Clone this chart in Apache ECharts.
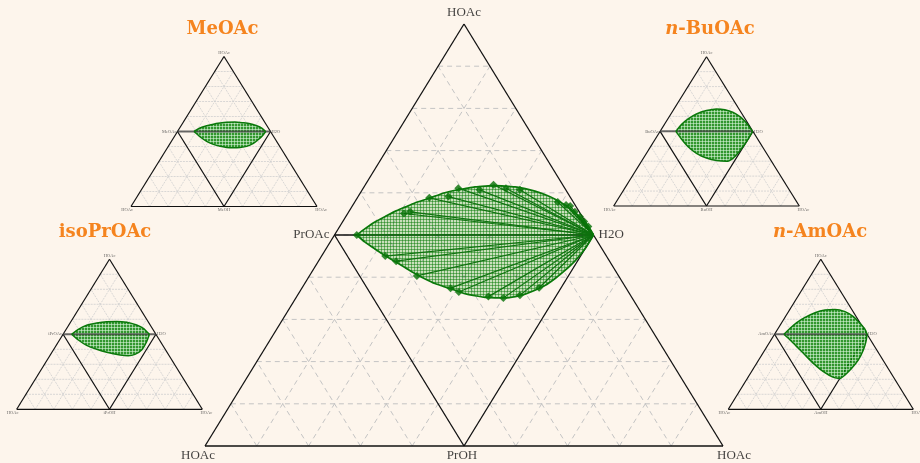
<!DOCTYPE html>
<html><head><meta charset="utf-8">
<script src="https://cdn.jsdelivr.net/npm/echarts@6/dist/echarts.min.js"></script>
<style>html,body{margin:0;padding:0;background:#fdf5ec;}#c{width:920px;height:463px;}</style>
</head><body><div id="c"></div>
<script>
// ================= DATA (triangle units: x 0..100 along base, y 0..100 of height) =================
const DIVISIONS = 10;
const outerTriangle = [[0,0],[50,100],[100,0]];
const apexVertex = [50,100], esterVertex = [25,50], waterVertex = [75,50];
const leftVertex = [0,0], alcoholVertex = [50,0], rightVertex = [100,0];

// main chart: n-propyl acetate system
const bigLabels = ['HOAc','PrOAc','H2O','HOAc','PrOH','HOAc'];
const bigUpper = [[29.3,50],[30.9,51.5],[32.8,53.1],[34.8,54.4],[36.7,55.6],[38.6,56.6],[40.5,57.6],[42.5,58.4],[44.4,59.2],[46.3,60.0],[48.3,60.6],[50.2,61.0],[52.1,61.4],[54.1,61.6],[56.0,61.7],[57.9,61.6],[59.9,61.4],[61.8,61.0],[63.7,60.4],[65.6,59.6],[67.6,58.5],[69.5,57.1],[71.4,55.3],[73.0,53.6],[74.1,51.9],[75,50]];
const bigLower = [[29.3,50],[30.9,48.3],[32.8,46.7],[34.8,45.1],[36.7,43.7],[38.6,42.3],[40.5,40.9],[42.5,39.6],[44.4,38.5],[46.3,37.7],[48.3,36.9],[50.2,36.1],[52.1,35.6],[54.1,35.2],[56.0,35.1],[57.9,35.1],[59.9,35.4],[61.8,36.0],[63.7,36.9],[65.6,38.0],[67.6,39.7],[69.5,41.6],[71.4,43.8],[73.4,46.8],[75,50]];
const bigUpperPoints = [[29.3,50],[38.4,55.1],[39.6,55.5],[43.3,58.8],[47.0,59.1],[48.9,61.1],[53.0,60.7],[55.7,61.9],[58.1,61.1],[60.8,60.7],[68.1,57.8],[69.7,57.1],[70.5,56.9],[71.4,55.5],[72.4,54.3],[73.2,53.2],[74.0,52.0]];
const bigLowerPoints = [[34.8,45.0],[36.9,43.8],[40.9,40.3],[47.4,37.4],[49.0,36.5],[54.7,35.4],[57.6,35.1],[60.8,35.7],[64.5,37.5]];

// inset systems
const meoacLabels = ['HOAc','MeOAc','H2O','HOAc','MeOH','HOAc'];
const meoacUpper = [[33.9,50],[37.1,52.3],[40.7,53.8],[44.3,54.9],[47.9,55.6],[51.4,56.1],[55.9,56.3],[60.4,55.8],[64.0,55.2],[67.6,53.8],[70.3,52.3],[72.4,50]];
const meoacLower = [[37.1,46.5],[40.7,43.4],[44.3,41.4],[47.9,40.1],[51.4,39.4],[55.0,39.2],[58.6,39.4],[62.2,40.1],[65.8,42.1],[68.5,44.7],[70.8,47.4]];

const buoacLabels = ['HOAc','BuOAc','H2O','HOAc','BuOH','HOAc'];
const buoacUpper = [[33.5,50],[36.5,54.5],[40.1,58.3],[44.6,61.6],[50.0,63.9],[55.4,65.0],[59.9,64.5],[64.4,62.7],[68.0,59.8],[70.7,56.7],[73.0,53.1],[74.8,50]];
const buoacLower = [[36.5,44.9],[40.1,39.7],[44.6,35.3],[50.0,32.1],[55.4,30.4],[60.8,29.9],[64.4,32.1],[68.0,37.1],[70.7,41.5],[73.0,46.0]];

const iproacLabels = ['HOAc','iPrOAc','H2O','HOAc','iPrOH','HOAc'];
const iproacUpper = [[29.6,50],[33.2,53.3],[37.7,56.0],[43.1,57.5],[48.5,58.4],[53.9,58.6],[59.3,58.0],[64.6,56.2],[68.2,54.0],[71.5,50]];
const iproacLower = [[33.2,46.2],[37.7,42.6],[43.1,40.0],[48.5,38.0],[55.7,36.2],[60.1,35.7],[63.7,36.6],[67.3,39.5],[70.0,45.1]];

const amoacLabels = ['HOAc','AmOAc','H2O','HOAc','AmOH','HOAc'];
const amoacUpper = [[30.1,50],[33.4,54.0],[37.0,57.8],[41.5,61.3],[46.9,64.4],[52.3,66.2],[57.7,66.6],[63.1,65.1],[67.6,61.8],[71.2,57.3],[73.9,53.3],[75,50]];
const amoacLower = [[33.4,46.2],[37.0,41.8],[41.5,36.2],[46.0,30.6],[51.4,25.1],[56.8,21.3],[60.4,20.6],[63.1,22.9],[66.7,27.3],[70.3,32.9],[73.0,39.5],[74.4,45.1]];

// ================= LAYOUT =================
const grids = [
  {left:205, top:24, width:518, height:422},      // main
  {left:131, top:56.5, width:186, height:150},    // MeOAc
  {left:613.7, top:56.7, width:185.6, height:149.3}, // n-BuOAc
  {left:16.7, top:259.3, width:185.6, height:150}, // isoPrOAc
  {left:728.3, top:259.3, width:185, height:150}  // n-AmOAc
];

function makePattern(bg, line, step){
  const c = document.createElement('canvas'); c.width = step; c.height = step;
  const ctx = c.getContext('2d');
  ctx.fillStyle = bg; ctx.fillRect(0,0,step,step);
  ctx.fillStyle = line; ctx.fillRect(0,0,step,1); ctx.fillRect(0,0,1,step);
  return {image:c, repeat:'repeat'};
}
const bigPattern = makePattern('rgba(0,140,0,0.2)','rgba(0,120,0,0.48)',3);
const smallPattern = makePattern('rgba(0,128,0,0.8)','rgba(225,250,225,0.55)',3);

function gridSegments(){
  const segs = [];
  for (let k=1;k<DIVISIONS;k++){
    const f = 100/DIVISIONS*k;
    segs.push([f/2, f, 100-f/2, f]);         // parallel to base
    segs.push([f, 0, 50+f/2, 100-f]);        // parallel to left edge
    segs.push([f, 0, f/2, f]);               // parallel to right edge
  }
  return segs;
}
function frameSegments(){
  const t = outerTriangle;
  return [
    [t[0][0],t[0][1],t[1][0],t[1][1]],[t[1][0],t[1][1],t[2][0],t[2][1]],[t[2][0],t[2][1],t[0][0],t[0][1]],
    [esterVertex[0],esterVertex[1],alcoholVertex[0],alcoholVertex[1]],
    [alcoholVertex[0],alcoholVertex[1],waterVertex[0],waterVertex[1]]
  ];
}
function segSeries(gi, segs, style){
  return {type:'custom', xAxisIndex:gi, yAxisIndex:gi, data:segs, encode:{x:[0,2],y:[1,3]}, silent:true, animation:false,
    renderItem:function(params, api){
      const p1 = api.coord([api.value(0),api.value(1)]);
      const p2 = api.coord([api.value(2),api.value(3)]);
      return {type:'line', shape:{x1:p1[0],y1:p1[1],x2:p2[0],y2:p2[1]}, style:Object.assign({fill:null},style)};
    }};
}
function polySeries(gi, pts, fill){
  return {type:'custom', xAxisIndex:gi, yAxisIndex:gi, data:pts, encode:{x:0,y:1}, silent:true, animation:false,
    renderItem:function(params, api){
      if (params.dataIndex !== 0) return null;
      const P = pts.map(p => api.coord(p));
      return {type:'polygon', shape:{points:P}, style:{fill:fill, stroke:null}};
    }};
}
function curveSeries(gi, pts, width){
  return {type:'line', xAxisIndex:gi, yAxisIndex:gi, data:pts, showSymbol:false, smooth:0.25, silent:true, animation:false,
    lineStyle:{color:'#0a780a', width:width}};
}
function labelSeries(gi, names, fontSize, color, dist){
  const verts = [apexVertex, esterVertex, waterVertex, leftVertex, alcoholVertex, rightVertex];
  const pos = ['top','left','right','bottom','bottom','bottom'];
  const offs = gi===0 ? [[0,0],[0,0],[0,0],[-7,-2],[-2,-2],[11,-2]] : [[0,0],[0,0],[0,0],[-4,0],[0,0],[4,0]];
  return {type:'scatter', xAxisIndex:gi, yAxisIndex:gi, symbolSize:0.1, silent:true, animation:false,
    itemStyle:{color:'transparent'},
    data: verts.map((v,i)=>({name:names[i], value:v, label:{position:pos[i], offset:offs[i]}})),
    label:{show:true, formatter:'{b}', fontFamily:'Liberation Serif', fontSize:fontSize, color:color, distance:dist}};
}

const series = [];
// main chart
series.push(segSeries(0, gridSegments(), {stroke:'#c4c4c4', lineWidth:1, lineDash:[5,4]}));
series.push(segSeries(0, frameSegments().concat([[esterVertex[0],esterVertex[1],waterVertex[0],waterVertex[1]]]), {stroke:'#111', lineWidth:1.3}));
series.push(polySeries(0, bigUpper.concat(bigLower.slice(1,-1).reverse()), bigPattern));
series.push(segSeries(0, bigUpperPoints.concat(bigLowerPoints).map(p=>[p[0],p[1],waterVertex[0],waterVertex[1]]), {stroke:'#0f720f', lineWidth:1.2}));
series.push(curveSeries(0, bigUpper, 1.7));
series.push(curveSeries(0, bigLower, 1.7));
series.push({type:'scatter', xAxisIndex:0, yAxisIndex:0, data:bigUpperPoints.concat(bigLowerPoints), symbol:'diamond', symbolSize:8, silent:true, animation:false, itemStyle:{color:'#067006'}});
series.push(labelSeries(0, bigLabels, 13, '#111', 5));

// insets
const insets = [
  [meoacUpper, meoacLower, meoacLabels],
  [buoacUpper, buoacLower, buoacLabels],
  [iproacUpper, iproacLower, iproacLabels],
  [amoacUpper, amoacLower, amoacLabels]
];
insets.forEach((s, i)=>{
  const gi = i+1, up = s[0], lo = s[1];
  const loFull = [up[0]].concat(lo, [up[up.length-1]]);
  series.push(segSeries(gi, gridSegments(), {stroke:'#cfcfcf', lineWidth:0.8, lineDash:[2,1]}));
  series.push(segSeries(gi, frameSegments(), {stroke:'#111', lineWidth:1.2}));
  series.push(polySeries(gi, up.concat(lo.slice().reverse()), smallPattern));
  series.push(segSeries(gi, [[esterVertex[0],esterVertex[1],waterVertex[0],waterVertex[1]]], {stroke:'rgba(70,70,70,0.8)', lineWidth:2}));
  series.push(curveSeries(gi, up, 1.5));
  series.push(curveSeries(gi, loFull, 1.5));
  series.push(labelSeries(gi, s[2], 4.5, '#444', 1));
});

const titleFont = 'bold 18px "DejaVu Serif"';
const titleColor = '#f5841f';
const option = {
  backgroundColor:'#fdf5ec',
  animation:false,
  grid: grids.map(g=>Object.assign({containLabel:false}, g)),
  xAxis: grids.map((g,i)=>({gridIndex:i, type:'value', min:0, max:100, show:false})),
  yAxis: grids.map((g,i)=>({gridIndex:i, type:'value', min:0, max:100, show:false})),
  series: series,
  graphic: [
    {type:'text', x:222.5, y:29, style:{text:'MeOAc', font:titleFont, fill:titleColor, align:'center', verticalAlign:'middle'}},
    {type:'text', x:710, y:29, style:{text:'{i|n}-BuOAc', font:titleFont, fill:titleColor, align:'center', verticalAlign:'middle',
      rich:{i:{fontStyle:'italic', fontWeight:'bold', fontFamily:'DejaVu Serif', fontSize:18, fill:titleColor}}}},
    {type:'text', x:105, y:232, style:{text:'isoPrOAc', font:titleFont, fill:titleColor, align:'center', verticalAlign:'middle'}},
    {type:'text', x:820, y:232, style:{text:'{i|n}-AmOAc', font:titleFont, fill:titleColor, align:'center', verticalAlign:'middle',
      rich:{i:{fontStyle:'italic', fontWeight:'bold', fontFamily:'DejaVu Serif', fontSize:18, fill:titleColor}}}}
  ]
};
const chart = echarts.init(document.getElementById('c'), null, {renderer:'canvas'});
chart.setOption(option);
</script></body></html>
